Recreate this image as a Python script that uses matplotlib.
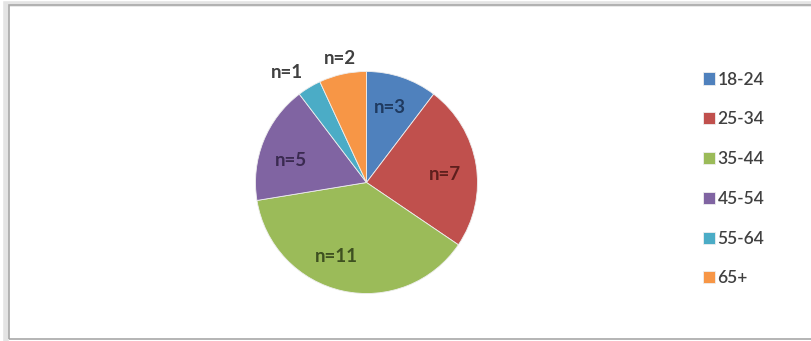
import matplotlib.pyplot as plt
from matplotlib.patches import Rectangle

# age groups and respondent counts
age_groups = ["18-24", "25-34", "35-44", "45-54", "55-64", "65+"]
counts = [3, 7, 11, 5, 1, 2]
colors = ["#4F81BD", "#C0504D", "#9BBB59", "#8064A2", "#4BACC6", "#F79646"]
label_colors = ["#1F3A60", "#5E1F1D", "#3E5020", "#3A2A50", "#404040", "#404040"]

# label anchor points in pie units (radius = 1)
label_xy = [(0.21, 0.68), (0.71, 0.07), (-0.27, -0.67),
            (-0.68, 0.20), (-0.72, 0.99), (-0.24, 1.12)]

W, H = 811, 341
fig = plt.figure(figsize=(W / 100, H / 100), dpi=100)

# chart area border with a soft shadow
fig.patches.append(Rectangle((6 / W, -0.02), 1.0, (H - 4) / H + 0.02,
                             transform=fig.transFigure, fill=False,
                             edgecolor="#e4e4e4", lw=4, zorder=0))
fig.patches.append(Rectangle((9 / W, 0.005), 1.0, (H - 7) / H,
                             transform=fig.transFigure, fill=False,
                             edgecolor="#a8a8a8", lw=1.2, zorder=1))

cx, cy, r = 366.5, H - 182.5, 111
ax = fig.add_axes([(cx - r) / W, (cy - r) / H, 2 * r / W, 2 * r / H])
wedges, _ = ax.pie(counts, colors=colors, startangle=90, counterclock=False,
                   radius=1, wedgeprops=dict(edgecolor="#eeeeee", linewidth=0.6))
ax.set_xlim(-1, 1)
ax.set_ylim(-1, 1)
ax.axis("off")

for n, (x, y), c in zip(counts, label_xy, label_colors):
    ax.text(x, y, f"n={n}", ha="center", va="center", fontsize=13.5,
            family="Lato", fontweight="bold", color=c)

fig.legend(wedges, age_groups, loc="center left",
           bbox_to_anchor=(687 / W, (H - 179) / H), frameon=False,
           prop=dict(family="Lato", size=12.5, weight="semibold"),
           labelcolor="#404040",
           handlelength=0.7, handleheight=0.7, handletextpad=0.15,
           labelspacing=1.37)

fig.savefig("out.png", dpi=100)
